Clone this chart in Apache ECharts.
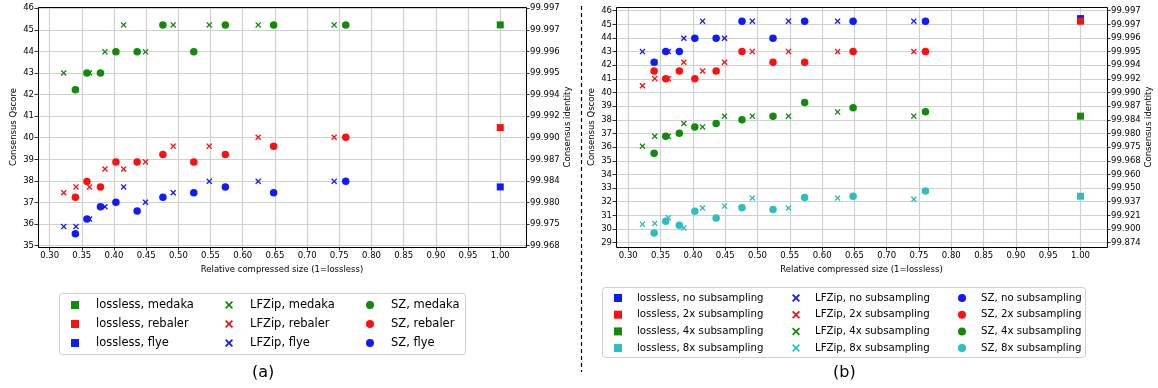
<!DOCTYPE html>
<html><head><meta charset="utf-8">
<script src="https://cdn.jsdelivr.net/npm/echarts@6/dist/echarts.min.js"></script>
<style>html,body{margin:0;padding:0;background:#fff;}#c{width:1158px;height:388px;}</style>
</head><body><div id="c"></div>
<script>
// ---------- data ----------
const lfzipX = [0.322, 0.341, 0.362, 0.386, 0.415, 0.449, 0.492, 0.548, 0.624, 0.742];
const szX = [0.340, 0.358, 0.379, 0.403, 0.436, 0.476, 0.524, 0.573, 0.648, 0.760];
const losslessX = [1.0];

// (a) polishers
const aMedakaLossless = [45.23];
const aMedakaLFZip = [43.0, 42.22, 43.0, 43.98, 45.23, 43.98, 45.23, 45.23, 45.23, 45.23];
const aMedakaSZ = [42.22, 43.0, 43.0, 43.98, 43.98, 45.23, 43.98, 45.23, 45.23, 45.23];
const aRebalerLossless = [40.47];
const aRebalerLFZip = [37.45, 37.72, 37.72, 38.55, 38.55, 38.88, 39.61, 39.61, 40.02, 40.02];
const aRebalerSZ = [37.24, 37.97, 37.72, 38.88, 38.88, 39.22, 38.88, 39.22, 39.61, 40.02];
const aFlyeLossless = [37.72];
const aFlyeLFZip = [35.88, 35.88, 36.23, 36.8, 37.72, 37.01, 37.45, 37.98, 37.98, 37.98];
const aFlyeSZ = [35.55, 36.23, 36.8, 37.01, 36.6, 37.24, 37.45, 37.72, 37.45, 37.98];

// (b) subsampling
const bNoneLossless = [45.42];
const bNoneLFZip = [43.0, 42.22, 43.0, 43.98, 45.23, 43.98, 45.23, 45.23, 45.23, 45.23];
const bNoneSZ = [42.22, 43.0, 43.0, 43.98, 43.98, 45.23, 43.98, 45.23, 45.23, 45.23];
const b2xLossless = [45.23];
const b2xLFZip = [40.5, 41.02, 41.02, 42.22, 41.58, 42.22, 43.0, 43.0, 43.0, 43.0];
const b2xSZ = [41.58, 41.02, 41.58, 41.02, 41.58, 43.0, 42.22, 42.22, 43.0, 43.0];
const b4xLossless = [38.27];
const b4xLFZip = [36.07, 36.8, 36.8, 37.73, 37.48, 38.27, 38.27, 38.27, 38.58, 38.27];
const b4xSZ = [35.55, 36.8, 37.02, 37.48, 37.73, 38.0, 38.27, 39.27, 38.88, 38.59];
const b8xLossless = [32.4];
const b8xLFZip = [30.34, 30.41, 30.83, 30.07, 31.54, 31.68, 32.27, 31.54, 32.27, 32.18];
const b8xSZ = [29.70, 30.56, 30.27, 31.3, 30.8, 31.56, 31.42, 32.3, 32.4, 32.79];

// tick labels of the secondary (identity) axes, indexed from the lowest Qscore tick
const identityTicksA = ['99.968','99.975','99.980','99.984','99.987','99.990','99.992','99.994','99.995','99.996','99.997','99.997']; // Q 35..46
const identityTicksB = ['99.874','99.900','99.921','99.937','99.950','99.960','99.968','99.975','99.980','99.984','99.987','99.990','99.992','99.994','99.995','99.996','99.997','99.997']; // Q 29..46
const qMinTickA = 35, qMinTickB = 29;

// ---------- style ----------
const FONT = 'DejaVu Sans';
const X_SYMBOL = 'path://M0,1.55L1.55,0L5,3.45L8.45,0L10,1.55L6.55,5L10,8.45L8.45,10L5,6.55L1.55,10L0,8.45L3.45,5Z';
const SQ_SYMBOL = 'path://M0,0L10,0L10,10L0,10Z';
const C = {green:'#138a0c', red:'#ff0f0f', blue:'#0f1bff', cyan:'#2bbfbf'};
const GRIDS = [
  {left:38, top:7, width:488, height:240, xMin:0.282, xMax:1.040, yMin:34.935, yMax:46.06},
  {left:616, top:7, width:491, height:240, xMin:0.281, xMax:1.041, yMin:28.68, yMax:46.27}
];

function onStep(v, s){ const r = v / s; return Math.abs(r - Math.round(r)) < 1e-6; }
function pts(xs, ys){ return xs.map((x, i) => [x, ys[i]]); }
function mk(name, g, xs, ys, kind, color){
  return {
    type:'scatter', name, xAxisIndex:g, yAxisIndex:g*2, data:pts(xs, ys),
    symbol: kind === 'lossless' ? SQ_SYMBOL : (kind === 'lfzip' ? X_SYMBOL : 'circle'),
    symbolSize: kind === 'lossless' ? 7 : (kind === 'lfzip' ? 6 : 7.5),
    itemStyle:{color, opacity:1}, clip:false, silent:true, animation:false
  };
}
const tickStyle = {show:true, length:3.5, lineStyle:{color:'#000', width:0.8}};
const labelBase = {fontFamily:FONT, fontSize:8.5, color:'#000', margin:4};

function xAxis(g){
  const G = GRIDS[g];
  return {type:'value', gridIndex:g, min:G.xMin, max:G.xMax, minInterval:0.05, maxInterval:0.05,
    name:'Relative compressed size (1=lossless)', nameLocation:'middle', nameGap:16,
    nameTextStyle:{fontFamily:FONT, fontSize:8.5, color:'#000'},
    axisLine:{show:false}, axisTick:tickStyle,
    axisLabel:Object.assign({}, labelBase, {showMinLabel:false, showMaxLabel:false,
      formatter: v => onStep(v, 0.05) ? v.toFixed(2) : ''}),
    splitLine:{show:true, lineStyle:{color:'#d0d0d0', width:1.2}}};
}
function yAxes(g, ticks, qMin){
  const G = GRIDS[g];
  const common = {type:'value', gridIndex:g, min:G.yMin, max:G.yMax, minInterval:1, maxInterval:1,
    nameLocation:'middle', nameTextStyle:{fontFamily:FONT, fontSize:8.5, color:'#000'},
    axisLine:{show:false}, axisTick:tickStyle};
  return [
    Object.assign({}, common, {position:'left', name:'Consensus Qscore', nameGap:20,
      axisLabel:Object.assign({}, labelBase, {showMinLabel:false, showMaxLabel:false,
        formatter: v => onStep(v, 1) ? String(Math.round(v)) : ''}),
      splitLine:{show:true, lineStyle:{color:'#d0d0d0', width:1.2}}}),
    Object.assign({}, common, {position:'right', name:'Consensus identity', nameGap:37,
      axisLabel:Object.assign({}, labelBase, {showMinLabel:false, showMaxLabel:false,
        formatter: v => onStep(v, 1) ? (ticks[Math.round(v) - qMin] || '') : ''}),
      splitLine:{show:false}})
  ];
}

const series = [
  mk('lossless, medaka', 0, losslessX, aMedakaLossless, 'lossless', C.green),
  mk('LFZip, medaka', 0, lfzipX, aMedakaLFZip, 'lfzip', C.green),
  mk('SZ, medaka', 0, szX, aMedakaSZ, 'sz', C.green),
  mk('lossless, rebaler', 0, losslessX, aRebalerLossless, 'lossless', C.red),
  mk('LFZip, rebaler', 0, lfzipX, aRebalerLFZip, 'lfzip', C.red),
  mk('SZ, rebaler', 0, szX, aRebalerSZ, 'sz', C.red),
  mk('lossless, flye', 0, losslessX, aFlyeLossless, 'lossless', C.blue),
  mk('LFZip, flye', 0, lfzipX, aFlyeLFZip, 'lfzip', C.blue),
  mk('SZ, flye', 0, szX, aFlyeSZ, 'sz', C.blue),

  mk('lossless, no subsampling', 1, losslessX, bNoneLossless, 'lossless', C.blue),
  mk('LFZip, no subsampling', 1, lfzipX, bNoneLFZip, 'lfzip', C.blue),
  mk('SZ, no subsampling', 1, szX, bNoneSZ, 'sz', C.blue),
  mk('lossless, 2x subsampling', 1, losslessX, b2xLossless, 'lossless', C.red),
  mk('LFZip, 2x subsampling', 1, lfzipX, b2xLFZip, 'lfzip', C.red),
  mk('SZ, 2x subsampling', 1, szX, b2xSZ, 'sz', C.red),
  mk('lossless, 4x subsampling', 1, losslessX, b4xLossless, 'lossless', C.green),
  mk('LFZip, 4x subsampling', 1, lfzipX, b4xLFZip, 'lfzip', C.green),
  mk('SZ, 4x subsampling', 1, szX, b4xSZ, 'sz', C.green),
  mk('lossless, 8x subsampling', 1, losslessX, b8xLossless, 'lossless', C.cyan),
  mk('LFZip, 8x subsampling', 1, lfzipX, b8xLFZip, 'lfzip', C.cyan),
  mk('SZ, 8x subsampling', 1, szX, b8xSZ, 'sz', C.cyan)
];

function legendCol(names, left, top, fontSize, lineH, gap, iw){
  return {show:true, orient:'vertical', left, top, padding:0, itemGap:gap, itemWidth:iw, itemHeight:8,
    selectedMode:false, symbolKeepAspect:true, data:names,
    textStyle:{fontFamily:FONT, fontSize, color:'#000', lineHeight:lineH}};
}
const legA = ['medaka','rebaler','flye'];
const legB = ['no subsampling','2x subsampling','4x subsampling','8x subsampling'];
const legends = [
  legendCol(legA.map(s => 'lossless, ' + s), 71, 298, 11.5, 14, 5, 32),
  legendCol(legA.map(s => 'LFZip, ' + s), 225, 298, 11.5, 14, 5, 32),
  legendCol(legA.map(s => 'SZ, ' + s), 366, 298, 11.5, 14, 5, 32),
  legendCol(legB.map(s => 'lossless, ' + s), 614, 291.5, 10.2, 13, 3.7, 28),
  legendCol(legB.map(s => 'LFZip, ' + s), 792, 291.5, 10.2, 13, 3.7, 28),
  legendCol(legB.map(s => 'SZ, ' + s), 958, 291.5, 10.2, 13, 3.7, 28)
];

const graphic = [
  ...GRIDS.map(G => ({type:'rect', z:100, silent:true,
    shape:{x:G.left + 0.5, y:G.top + 0.5, width:G.width, height:G.height},
    style:{fill:'none', stroke:'#000', lineWidth:1}})),
  {type:'rect', z:-1, silent:true, shape:{x:59.5, y:293.5, width:406, height:61, r:3},
    style:{fill:'#fff', stroke:'#d0d0d0', lineWidth:1}},
  {type:'rect', z:-1, silent:true, shape:{x:602.5, y:287.5, width:483, height:70, r:3},
    style:{fill:'#fff', stroke:'#d0d0d0', lineWidth:1}},
  {type:'line', silent:true, shape:{x1:581.5, y1:6, x2:581.5, y2:372},
    style:{stroke:'#000', lineWidth:1.2, lineDash:[4,3]}},
  {type:'text', silent:true, left:252, top:365, style:{text:'(a)', font:'16px "DejaVu Sans"', fill:'#000'}},
  {type:'text', silent:true, left:833, top:365, style:{text:'(b)', font:'16px "DejaVu Sans"', fill:'#000'}}
];

const chart = echarts.init(document.getElementById('c'), null, {renderer:'canvas'});
chart.setOption({
  animation:false,
  backgroundColor:'#fff',
  textStyle:{fontFamily:FONT},
  grid: GRIDS.map(G => ({left:G.left, top:G.top, width:G.width, height:G.height, containLabel:false, outerBoundsMode:'none', show:false})),
  xAxis:[xAxis(0), xAxis(1)],
  yAxis:[...yAxes(0, identityTicksA, qMinTickA), ...yAxes(1, identityTicksB, qMinTickB)],
  legend: legends,
  graphic,
  series
});
</script></body></html>
